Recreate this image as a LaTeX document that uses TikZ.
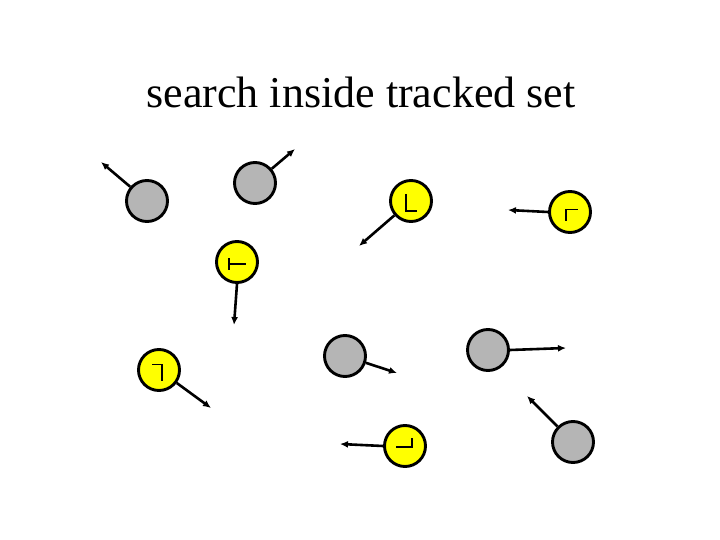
\documentclass[tikz,border=0pt]{standalone}
\usepackage{fontspec}
\setmainfont{Liberation Serif}
\usetikzlibrary{arrows.meta}
\definecolor{ballgray}{RGB}{181,181,181}
\definecolor{ballyellow}{RGB}{255,255,0}
\tikzset{
  ball/.style={circle,draw=black,line width=2.9pt,minimum size=41pt,inner sep=0pt,fill=ballgray},
  yball/.style={ball,fill=ballyellow},
  motion/.style={line width=2.6pt,-{Latex[length=8pt,width=7pt]}},
  glyph/.style={line width=1.9pt,line cap=butt,line join=miter}
}
\begin{document}
\begin{tikzpicture}[x=1pt,y=-1pt]
\useasboundingbox (0,0) rectangle (720,540);
\node[anchor=base,font=\fontsize{44}{50}\selectfont] (title) at (361,108) {search inside tracked set};
% gray balls
\node[ball] (g1) at (147,201) {};
\node[ball] (g2) at (255,183) {};
\node[ball] (g3) at (345,356) {};
\node[ball] (g4) at (488,350) {};
\node[ball] (g5) at (573,442) {};
% yellow balls
\node[yball] (y1) at (411,201) {};
\node[yball] (y2) at (570,212) {};
\node[yball] (y3) at (237,262) {};
\node[yball] (y4) at (159,370) {};
\node[yball] (y5) at (405,446) {};
% arrow tips
\coordinate (t1) at (101,162);
\coordinate (t2) at (295,149);
\coordinate (t3) at (397,373);
\coordinate (t4) at (566,348);
\coordinate (t5) at (527,396);
\coordinate (u1) at (359,246);
\coordinate (u2) at (508,210);
\coordinate (u3) at (234,325);
\coordinate (u4) at (211,408);
\coordinate (u5) at (340,444);
\draw[motion] (g1) -- (t1);
\draw[motion] (g2) -- (t2);
\draw[motion] (g3) -- (t3);
\draw[motion] (g4.east) -- (t4);
\draw[motion] (g5) -- (t5);
\draw[motion] (y1) -- (u1);
\draw[motion] (y2.west) -- (u2);
\draw[motion] (y3.south) -- (u3);
\draw[motion] (y4) -- (u4);
\draw[motion] (y5.west) -- (u5);
% glyphs
\draw[glyph] ([shift={(-5,-7)}]y1.center) -- ([shift={(-5,10)}]y1.center) -- ([shift={(6,10)}]y1.center);
\draw[glyph] ([shift={(-4,9)}]y2.center) -- ([shift={(-4,-2.5)}]y2.center) -- ([shift={(8,-2.5)}]y2.center);
\draw[glyph] ([shift={(-8,-4)}]y3.center) -- ([shift={(-8,7.5)}]y3.center);
\draw[glyph] ([shift={(-8,2)}]y3.center) -- ([shift={(9,2)}]y3.center);
\draw[glyph] ([shift={(-7,-5.5)}]y4.center) -- ([shift={(3,-5.5)}]y4.center) -- ([shift={(3,11)}]y4.center);
\draw[glyph] ([shift={(-9,1)}]y5.center) -- ([shift={(7,1)}]y5.center) -- ([shift={(7,-8.5)}]y5.center);
\end{tikzpicture}
\end{document}
